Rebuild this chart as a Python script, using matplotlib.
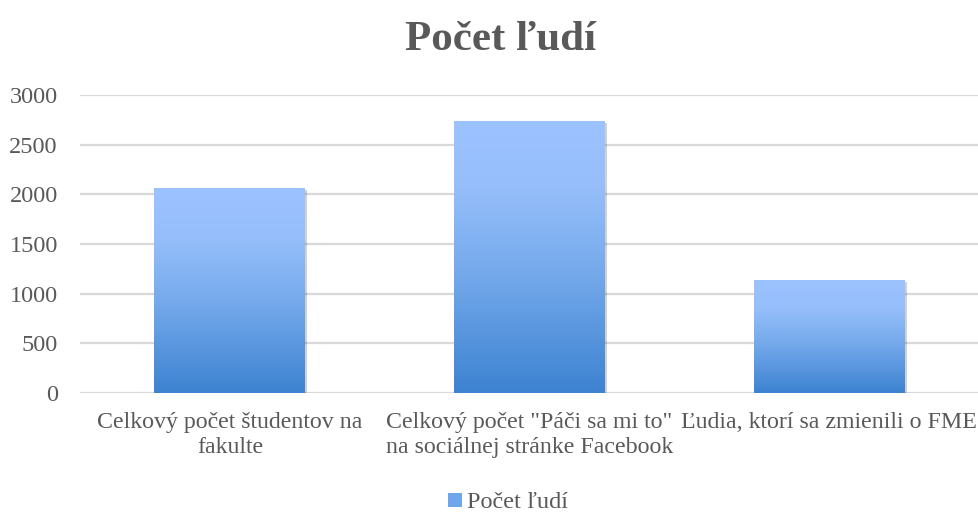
import matplotlib.pyplot as plt
import numpy as np
from matplotlib.colors import LinearSegmentedColormap
from matplotlib.patches import Patch
import matplotlib.patheffects as pe

# data
categories = ['Celkový počet študentov na\nfakulte',
              'Celkový počet "Páči sa mi to"\nna sociálnej stránke Facebook',
              'Ľudia, ktorí sa zmienili o FME']
values = [2060, 2740, 1137]
series_name = 'Počet ľudí'
title = 'Počet ľudí'
yticks = [0, 500, 1000, 1500, 2000, 2500, 3000]

plt.rcParams['font.family'] = ['Liberation Serif', 'DejaVu Serif']
text_color = '#595959'

# office style gradient, bottom -> top
grad = LinearSegmentedColormap.from_list('office_blue', [
    (0.0, '#3D83D1'), (0.45, '#76AAEC'), (0.75, '#95BEFA'), (1.0, '#9DC3FF')])

fig = plt.figure(figsize=(9.79, 5.15), dpi=100)
ax = fig.add_axes([80 / 979, 1 - 393 / 515, 899 / 979, 298 / 515])

x = np.arange(len(categories))
bars = ax.bar(x, values, width=0.503, color='#6FA5EA', zorder=3,
              path_effects=[pe.SimplePatchShadow(offset=(1.5, -1.5), shadow_rgbFace='#000000', alpha=0.18),
                            pe.Normal()])

# gradient inside every bar
g = np.linspace(0, 1, 256).reshape(-1, 1)
for b in bars:
    x0, y0 = b.get_x(), b.get_y()
    im = ax.imshow(g, cmap=grad, origin='lower', aspect='auto', zorder=4,
                   extent=[x0, x0 + b.get_width(), y0, y0 + b.get_height()])
    im.set_clip_path(b)

ax.set_xlim(-0.5, len(categories) - 0.5)
ax.set_ylim(0, 3000)
ax.set_yticks(yticks)
ax.set_xticks(x)
ax.set_xticklabels(categories, fontsize=17.2, color=text_color, linespacing=1.2)
ax.tick_params(axis='y', labelsize=17.5, labelcolor=text_color, length=0, pad=16)
ax.tick_params(axis='x', length=0, pad=14)
ax.yaxis.grid(True, color='#D9D9D9', linewidth=1.6, zorder=0)
ax.set_axisbelow(True)
for s in ax.spines.values():
    s.set_visible(False)

fig.text(0.511, 1 - 50 / 515, title, ha='center', va='baseline',
         fontsize=31, fontweight='bold', color=text_color)

fig.legend(handles=[Patch(facecolor='#6FA5EA', label=series_name)],
           loc='center', bbox_to_anchor=(508 / 979, 1 - 503 / 515),
           frameon=False, prop={'family': ['Liberation Serif'], 'size': 17.5},
           labelcolor=text_color,
           handlelength=0.55, handleheight=0.55, handletextpad=0.2)

fig.savefig('out.png', dpi=100)
